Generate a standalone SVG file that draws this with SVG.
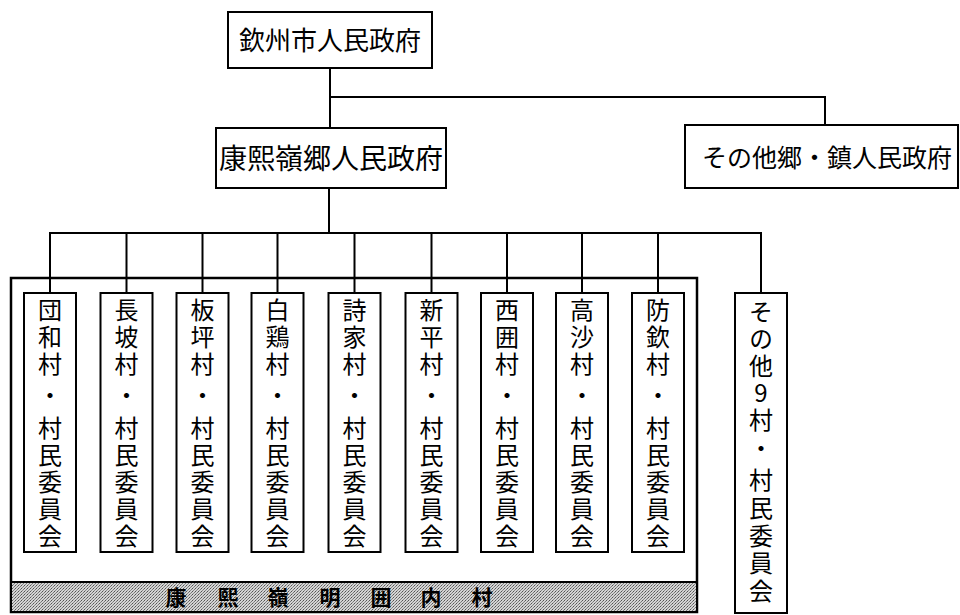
<svg xmlns="http://www.w3.org/2000/svg" width="960" height="615" viewBox="0 0 960 615">
<defs>
<style>
.box{fill:#fff;stroke:#000;stroke-width:2}
.ln{fill:none;stroke:#000;stroke-width:2}
.t{font-family:"Noto Sans CJK JP","Noto Sans CJK SC",sans-serif;fill:#000}
.c{text-anchor:middle}
.h{font-size:26px}
.v{font-size:24px;writing-mode:vertical-rl;text-orientation:upright;letter-spacing:3px}
.d{font-size:24px;text-anchor:middle}
.b{font-size:21px;font-weight:bold;text-anchor:middle}
</style>
<pattern id="ht" width="3" height="3" patternUnits="userSpaceOnUse">
<rect width="3" height="3" fill="#d4d4d4"/>
<rect x="0" y="0" width="1" height="1" fill="#555"/>
<rect x="2" y="1" width="1" height="1" fill="#777"/>
<rect x="1" y="2" width="1" height="1" fill="#888"/>
</pattern>
</defs>
<rect width="960" height="615" fill="#fff"/>

<g id="connectors">
<path class="ln" d="M330 68V128M330 97H825V125M329 188V233M49 233H762"/>
<path class="ln" d="M50 233V293M126.5 233V293M202.5 233V293M277.5 233V293M354.5 233V293M431.5 233V293M507 233V293M582 233V293M658 233V293M761 233V293"/>
</g>

<g id="group-frame">
<rect x="11" y="278" width="686" height="334" fill="none" stroke="#000" stroke-width="2.5"/>
<rect x="11" y="582" width="686" height="30" fill="url(#ht)" stroke="#000" stroke-width="2"/>
<text class="t b" x="176" y="605">康</text>
<text class="t b" x="228" y="605">熙</text>
<text class="t b" x="278" y="605">嶺</text>
<text class="t b" x="330" y="605">明</text>
<text class="t b" x="381" y="605">囲</text>
<text class="t b" x="431" y="605">内</text>
<text class="t b" x="482" y="605">村</text>
</g>

<g id="qinzhou">
<rect class="box" x="228" y="12" width="204" height="56"/>
<text class="t c h" x="330" y="50">欽州市人民政府</text>
</g>

<g id="kangxiling">
<rect class="box" x="216" y="128" width="230" height="60"/>
<text class="t c" x="331" y="169" style="font-size:28px">康熙嶺郷人民政府</text>
</g>

<g id="other-towns">
<rect class="box" x="685" y="125" width="273" height="63"/>
<text class="t c" x="827" y="167" style="font-size:25px">その他郷・鎮人民政府</text>
</g>

<g id="v1">
<rect class="box" x="24" y="293" width="52" height="259"/>
<text class="t v" x="50" y="298">団和村</text>
<text class="t d" x="50" y="404">・</text>
<text class="t v" x="50" y="416">村民委員会</text>
</g>
<g id="v2">
<rect class="box" x="100.5" y="293" width="52" height="259"/>
<text class="t v" x="126.5" y="298">長坡村</text>
<text class="t d" x="126.5" y="404">・</text>
<text class="t v" x="126.5" y="416">村民委員会</text>
</g>
<g id="v3">
<rect class="box" x="176.5" y="293" width="52" height="259"/>
<text class="t v" x="202.5" y="298">板坪村</text>
<text class="t d" x="202.5" y="404">・</text>
<text class="t v" x="202.5" y="416">村民委員会</text>
</g>
<g id="v4">
<rect class="box" x="251.5" y="293" width="52" height="259"/>
<text class="t v" x="277.5" y="298">白鶏村</text>
<text class="t d" x="277.5" y="404">・</text>
<text class="t v" x="277.5" y="416">村民委員会</text>
</g>
<g id="v5">
<rect class="box" x="328.5" y="293" width="52" height="259"/>
<text class="t v" x="354.5" y="298">詩家村</text>
<text class="t d" x="354.5" y="404">・</text>
<text class="t v" x="354.5" y="416">村民委員会</text>
</g>
<g id="v6">
<rect class="box" x="405.5" y="293" width="52" height="259"/>
<text class="t v" x="431.5" y="298">新平村</text>
<text class="t d" x="431.5" y="404">・</text>
<text class="t v" x="431.5" y="416">村民委員会</text>
</g>
<g id="v7">
<rect class="box" x="481" y="293" width="52" height="259"/>
<text class="t v" x="507" y="298">西囲村</text>
<text class="t d" x="507" y="404">・</text>
<text class="t v" x="507" y="416">村民委員会</text>
</g>
<g id="v8">
<rect class="box" x="556" y="293" width="52" height="259"/>
<text class="t v" x="582" y="298">高沙村</text>
<text class="t d" x="582" y="404">・</text>
<text class="t v" x="582" y="416">村民委員会</text>
</g>
<g id="v9">
<rect class="box" x="632" y="293" width="52" height="259"/>
<text class="t v" x="658" y="298">防欽村</text>
<text class="t d" x="658" y="404">・</text>
<text class="t v" x="658" y="416">村民委員会</text>
</g>
<g id="v-other">
<rect class="box" x="735" y="293" width="52" height="320"/>
<text class="t v" x="761" y="300">その他9村</text>
<text class="t d" x="761" y="457">・</text>
<text class="t v" x="761" y="468" style="letter-spacing:3.7px">村民委員会</text>
</g>
</svg>
